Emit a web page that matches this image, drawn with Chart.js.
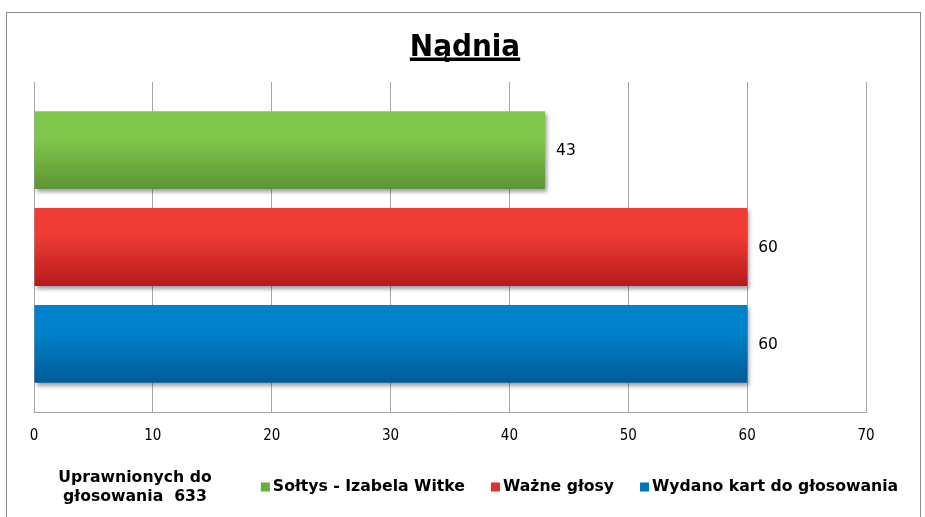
<!DOCTYPE html>
<html>
<head>
<meta charset="utf-8">
<script src="https://cdn.jsdelivr.net/npm/chart.js@4/dist/chart.umd.min.js"></script>
<style>
  html, body { margin: 0; padding: 0; background: #fff; }
  #frame { position: absolute; left: 6px; top: 12px; width: 915px; height: 600px; border: 1px solid #8c8c8c; box-sizing: border-box; }
  #wrap { position: absolute; left: 0; top: 0; width: 925px; height: 517px; }
</style>
</head>
<body>
<div id="frame"></div>
<div id="wrap"><canvas id="myChart" width="925" height="517"></canvas></div>
<script>
// chart data
const categories = [['Uprawnionych do', 'głosowania  633']];
const seriesNames = ['Sołtys - Izabela Witke', 'Ważne głosy', 'Wydano kart do głosowania'];
const soltysValues = [43];
const wazneValues = [60];
const wydanoValues = [60];
const xTicks = [0, 10, 20, 30, 40, 50, 60, 70];
const titleText = 'Nądnia';

const condensed = '"DejaVu Sans Condensed", "Liberation Sans Narrow", "DejaVu Sans", sans-serif';
const wide = '"DejaVu Sans", Verdana, sans-serif';

// top/bottom colours for the bar gradients, plus legend square colour
const palette = [
  { top: '#80c64b', bottom: '#5e9435', key: '#6cae3e' },
  { top: '#ef3c34', bottom: '#b51a1c', key: '#e2302c' },
  { top: '#0082ca', bottom: '#005c97', key: '#0073b9' }
];

const barStyle = {
  id: 'barStyle',
  beforeDatasetDraw(chart, args) {
    const ctx = chart.ctx;
    const p = palette[args.index];
    args.meta.data.forEach(function(el) {
      const g = ctx.createLinearGradient(0, el.y - el.height / 2, 0, el.y + el.height / 2);
      g.addColorStop(0, p.top);
      g.addColorStop(0.35, p.top);
      g.addColorStop(1, p.bottom);
      el.options = Object.assign({}, el.options, { backgroundColor: g });
    });
    ctx.save();
    ctx.shadowColor = 'rgba(40,40,60,0.45)';
    ctx.shadowBlur = 4;
    ctx.shadowOffsetX = 2;
    ctx.shadowOffsetY = 3;
  },
  afterDatasetDraw(chart) {
    chart.ctx.restore();
  }
};

const extras = {
  id: 'extras',
  afterDatasetsDraw(chart) {
    const ctx = chart.ctx;
    ctx.save();
    ctx.font = '15.5px "DejaVu Sans", sans-serif';
    ctx.fillStyle = '#000';
    ctx.textBaseline = 'middle';
    ctx.textAlign = 'left';
    chart.data.datasets.forEach(function(ds, i) {
      chart.getDatasetMeta(i).data.forEach(function(el, j) {
        ctx.fillText(String(ds.data[j]), el.x + 11, el.y + 1);
      });
    });
    ctx.restore();
  },
  afterDraw(chart) {
    const ctx = chart.ctx;
    ctx.save();
    // title with underline
    ctx.font = 'bold 31px ' + condensed;
    ctx.fillStyle = '#000';
    ctx.textAlign = 'center';
    ctx.textBaseline = 'alphabetic';
    ctx.fillText(titleText, 465, 56);
    const w = ctx.measureText(titleText).width;
    ctx.fillRect(465 - w / 2, 57.5, w, 3.5);

    // category label bottom-left
    ctx.font = 'bold 15.7px ' + wide;
    ctx.textBaseline = 'middle';
    categories[0].forEach(function(line, k) {
      ctx.fillText(line, 135, 478 + k * 19);
    });

    // legend row
    const gap = 3, box = 9, spacing = 26;
    const widths = seriesNames.map(function(n) { return box + gap + ctx.measureText(n).width; });
    const total = widths.reduce(function(a, b) { return a + b; }, 0) + spacing * (widths.length - 1);
    let x = 579.5 - total / 2;
    const y = 487;
    ctx.textAlign = 'left';
    seriesNames.forEach(function(n, i) {
      ctx.fillStyle = palette[i].key;
      ctx.fillRect(x, y - 4.5, box, box);
      ctx.fillStyle = '#000';
      ctx.fillText(n, x + box + gap, y);
      x += widths[i] + spacing;
    });
    ctx.restore();
  }
};

const data = {
  labels: categories,
  datasets: [
    { label: seriesNames[0], data: soltysValues, backgroundColor: palette[0].top },
    { label: seriesNames[1], data: wazneValues, backgroundColor: palette[1].top },
    { label: seriesNames[2], data: wydanoValues, backgroundColor: palette[2].top }
  ]
};

const ctx = document.getElementById('myChart').getContext('2d');
new Chart(ctx, {
  type: 'bar',
  data: data,
  plugins: [barStyle, extras],
  options: {
    indexAxis: 'y',
    responsive: false,
    animation: false,
    categoryPercentage: 0.88,
    barPercentage: 0.804,
    layout: { padding: { left: 34, right: 59, top: 82, bottom: 50 } },
    plugins: {
      legend: { display: false },
      tooltip: { enabled: false },
      title: { display: false }
    },
    scales: {
      x: {
        min: xTicks[0],
        max: xTicks[xTicks.length - 1],
        afterBuildTicks: function(scale) {
          scale.ticks = xTicks.map(function(v) { return { value: v }; });
        },
        afterFit: function(scale) { scale.height = 55; },
        grid: { color: '#a6a6a6', drawTicks: false },
        border: { color: '#a6a6a6' },
        ticks: { color: '#000', padding: 15, font: { family: condensed, size: 15 } }
      },
      y: {
        afterFit: function(scale) { scale.width = 0; },
        grid: { display: false },
        border: { color: '#a6a6a6' },
        ticks: { display: false }
      }
    }
  }
});
</script>
</body>
</html>
